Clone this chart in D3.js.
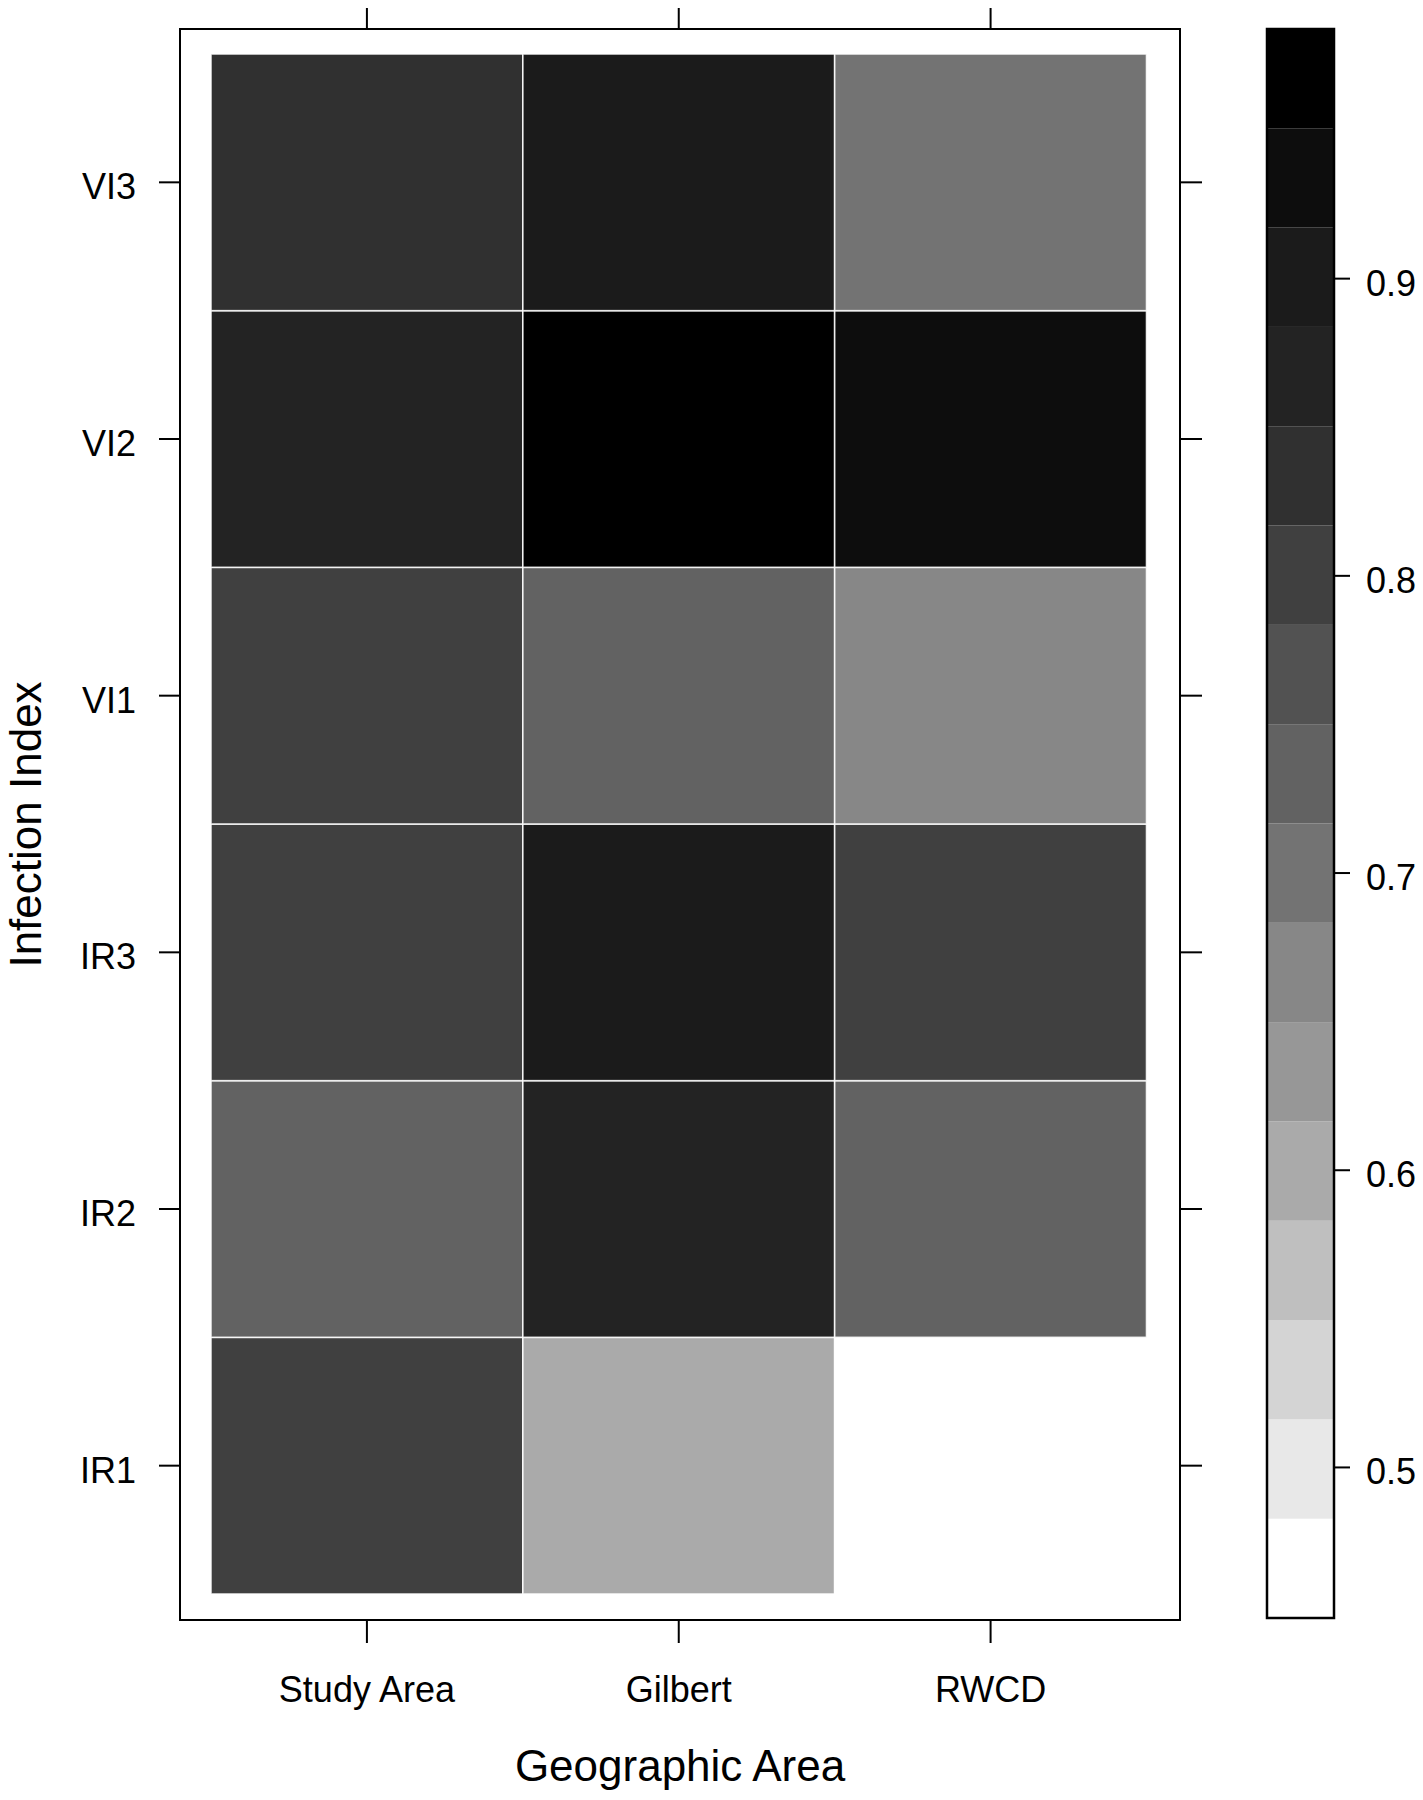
<!DOCTYPE html>
<html><head><meta charset="utf-8">
<script src="https://cdn.jsdelivr.net/npm/d3@7/dist/d3.min.js"></script>
<style>body{margin:0;background:#fff}text{font-family:"Liberation Sans",Arial,sans-serif;fill:#000}</style>
</head><body>
<svg id="chart" width="1423" height="1800"></svg>
<script>
// ---- data ----
const areas = ["Study Area", "Gilbert", "RWCD"];
const indices = ["IR1", "IR2", "IR3", "VI1", "VI2", "VI3"]; // bottom to top
const studyArea = [0.80, 0.73, 0.80, 0.80, 0.87, 0.83];
const gilbert   = [0.60, 0.87, 0.90, 0.73, 0.951, 0.90];
const rwcd      = [0.482, 0.73, 0.80, 0.67, 0.93, 0.70];
const colorTicks = [0.5, 0.6, 0.7, 0.8, 0.9];
const grayLevels = ["#ffffff","#e8e8e8","#d4d4d4","#bfbfbf","#aaaaaa","#979797","#878787","#737373",
                    "#626262","#525252","#404040","#303030","#232323","#1b1b1b","#0d0d0d","#000000"];
const xTitle = "Geographic Area", yTitle = "Infection Index";

const series = [studyArea, gilbert, rwcd];
const cells = [];
areas.forEach((a, i) => indices.forEach((r, j) => cells.push({area: a, idx: r, v: series[i][j]})));

// levels: range extended by 7% each side, 16 equal bins
const ext = d3.extent(cells, d => d.v);
const pad = (ext[1] - ext[0]) * 0.07;
const zlo = ext[0] - pad, zhi = ext[1] + pad;
const nb = grayLevels.length;
const breaks = d3.range(nb + 1).map(k => zlo + k * (zhi - zlo) / nb);
const color = d3.scaleThreshold().domain(breaks.slice(1, -1)).range(grayLevels);

const svg = d3.select("#chart");
const P = {l: 180, r: 1180, t: 29, b: 1620};

const x = d3.scaleBand().domain(areas).range([211, 1146.5]);
const y = d3.scaleBand().domain(indices).range([1594, 54]);

// cells
svg.append("g").selectAll("rect").data(cells).join("rect")
  .attr("x", d => x(d.area)).attr("y", d => y(d.idx))
  .attr("width", x.bandwidth()).attr("height", y.bandwidth())
  .attr("fill", d => color(d.v))
  .attr("stroke", "#fff").attr("stroke-width", 1.6).attr("stroke-opacity", 0.85);

// panel border
svg.append("rect").attr("x", P.l).attr("y", P.t).attr("width", P.r - P.l).attr("height", P.b - P.t)
  .attr("fill", "none").attr("stroke", "#000").attr("stroke-width", 2);

const fs = 36;
// bottom axis
const xb = svg.append("g").attr("transform", `translate(0,${P.b})`)
  .call(d3.axisBottom(x).tickSize(23).tickPadding(0).tickSizeOuter(0));
xb.select(".domain").remove();
xb.selectAll("line").attr("stroke", "#000").attr("stroke-width", 2);
xb.selectAll("text").attr("font-size", fs).attr("dy", null).attr("y", 82);
// top axis
const xt = svg.append("g").attr("transform", `translate(0,${P.t})`)
  .call(d3.axisTop(x).tickSize(21).tickFormat("").tickSizeOuter(0));
xt.select(".domain").remove();
xt.selectAll("line").attr("stroke", "#000").attr("stroke-width", 2);
// left axis
const yl = svg.append("g").attr("transform", `translate(${P.l},0)`)
  .call(d3.axisLeft(y).tickSize(21).tickPadding(0).tickSizeOuter(0));
yl.select(".domain").remove();
yl.selectAll("line").attr("stroke", "#000").attr("stroke-width", 2);
yl.selectAll("text").attr("font-size", fs).attr("x", -44).attr("dy", null).attr("y", 17);
// right axis
const yr = svg.append("g").attr("transform", `translate(${P.r},0)`)
  .call(d3.axisRight(y).tickSize(22).tickFormat("").tickSizeOuter(0));
yr.select(".domain").remove();
yr.selectAll("line").attr("stroke", "#000").attr("stroke-width", 2);

// colour key
const C = {l: 1267, r: 1334, t: 29, b: 1618};
const cz = d3.scaleLinear().domain([zlo, zhi]).range([C.b, C.t]);
const bins = d3.range(nb).map(k => ({lo: breaks[k], hi: breaks[k + 1], c: grayLevels[k]}));
svg.append("g").selectAll("rect").data(bins).join("rect")
  .attr("x", C.l).attr("width", C.r - C.l)
  .attr("y", d => cz(d.hi)).attr("height", d => cz(d.lo) - cz(d.hi))
  .attr("fill", d => d.c);
svg.append("rect").attr("x", C.l).attr("y", C.t).attr("width", C.r - C.l).attr("height", C.b - C.t)
  .attr("fill", "none").attr("stroke", "#000").attr("stroke-width", 2.5);
const ca = svg.append("g").attr("transform", `translate(${C.r},0)`)
  .call(d3.axisRight(cz).tickValues(colorTicks).tickFormat(d3.format(".1f")).tickSize(16).tickPadding(0));
ca.select(".domain").remove();
ca.selectAll("line").attr("stroke", "#000").attr("stroke-width", 2);
ca.selectAll("text").attr("font-size", fs).attr("x", 32).attr("dy", null).attr("y", 17);

// titles
svg.append("text").attr("x", (P.l + P.r) / 2).attr("y", 1781).attr("text-anchor", "middle")
  .attr("font-size", 44).text(xTitle);
svg.append("text").attr("transform", `translate(41,${(P.t + P.b) / 2}) rotate(-90)`)
  .attr("text-anchor", "middle").attr("font-size", 44).text(yTitle);
</script>
</body></html>
